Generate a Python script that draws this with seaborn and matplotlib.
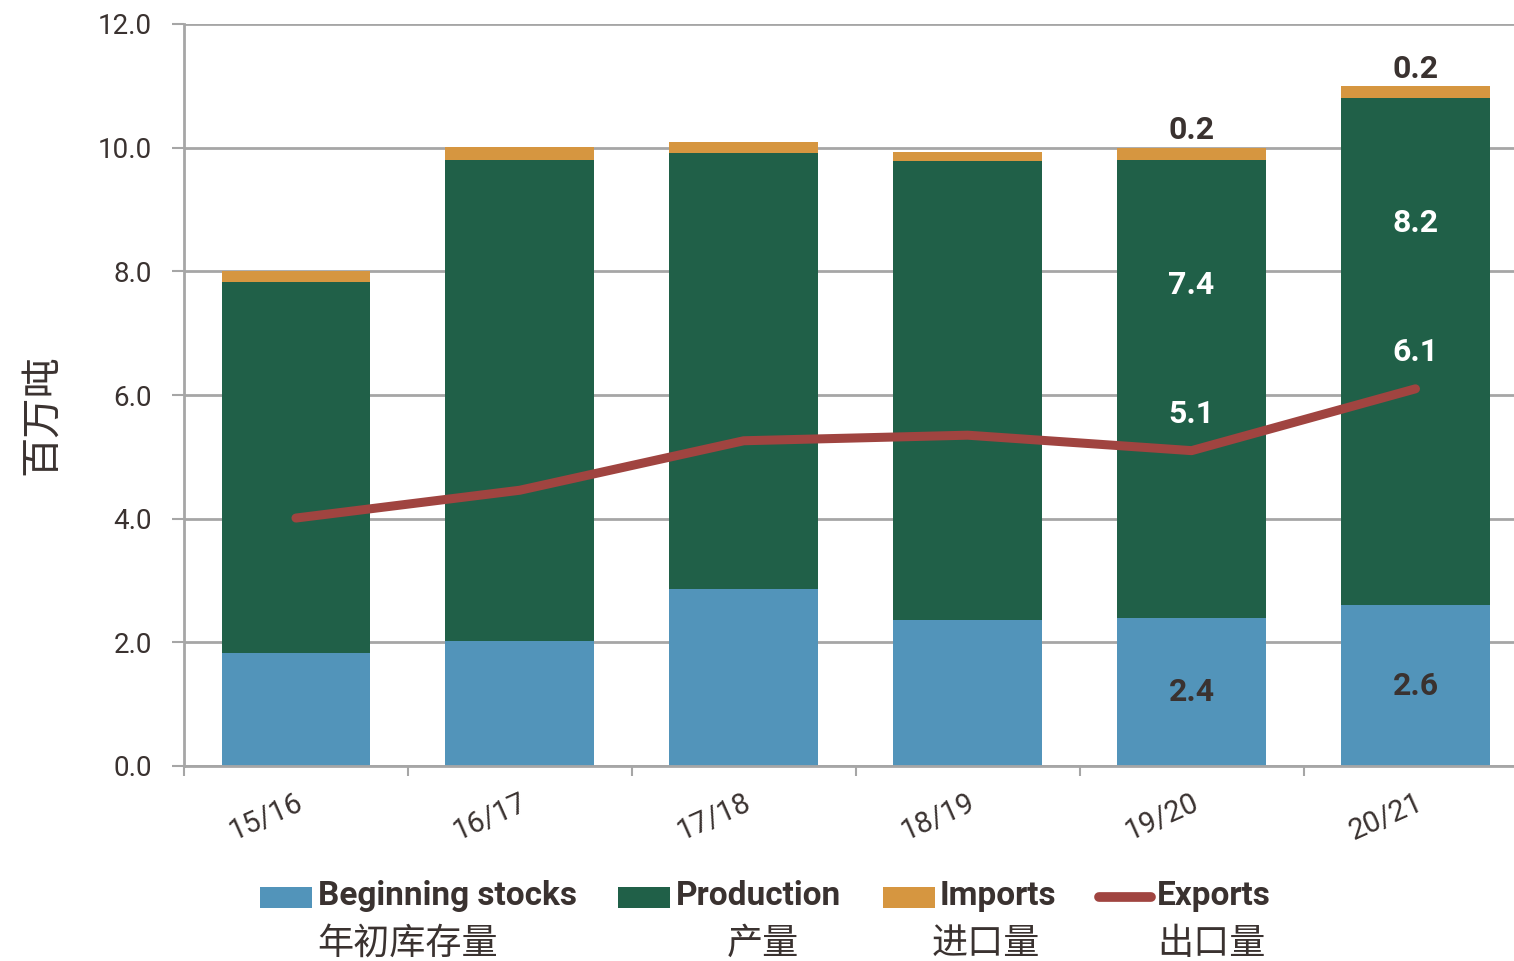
import matplotlib
matplotlib.use("Agg")
import matplotlib.pyplot as plt
from matplotlib.patches import Rectangle
from matplotlib.lines import Line2D
import seaborn as sns
import pandas as pd
import numpy as np

# Soybean-style balance sheet, million tonnes
seasons = ["15/16", "16/17", "17/18", "18/19", "19/20", "20/21"]
beginning_stocks = [1.83, 2.02, 2.86, 2.36, 2.4, 2.6]
production = [6.0, 7.78, 7.05, 7.42, 7.4, 8.2]
imports = [0.18, 0.21, 0.18, 0.15, 0.2, 0.2]
exports = [4.01, 4.46, 5.26, 5.35, 5.1, 6.1]
labelled = [False, False, False, False, True, True]

legend_en = ["Beginning stocks", "Production", "Imports", "Exports"]
legend_zh = ["年初库存量", "产量", "进口量", "出口量"]
y_label = "百万吨"

C_STOCK = "#5294ba"
C_PROD = "#206048"
C_IMP = "#d69640"
C_EXP = "#a04440"
C_TEXT = "#3a3230"
C_GRID = "#a6a6a6"

sns.set_theme(style="white")
plt.rcParams["font.family"] = ["Roboto", "Noto Sans CJK SC", "DejaVu Sans"]
BOLD = ["Roboto", "Noto Sans CJK SC", "DejaVu Sans"]
CJK = ["Noto Sans CJK SC", "DejaVu Sans"]

df = pd.DataFrame({
    "season": seasons,
    "stocks": beginning_stocks,
    "prod": production,
    "imp": imports,
    "exp": exports,
})
df["lvl2"] = df["stocks"] + df["prod"]
df["lvl3"] = df["lvl2"] + df["imp"]

fig = plt.figure(figsize=(15.14, 9.61), dpi=100)
ax = fig.add_axes([184 / 1514, 195 / 961, 1 - 184 / 1514, (766 - 24) / 961])

bw = 0.665
# stacked bars drawn as cumulative totals, tallest first
sns.barplot(data=df, x="season", y="lvl3", color=C_IMP, width=bw, saturation=1,
            linewidth=0, ax=ax, zorder=2)
sns.barplot(data=df, x="season", y="lvl2", color=C_PROD, width=bw, saturation=1,
            linewidth=0, ax=ax, zorder=2)
sns.barplot(data=df, x="season", y="stocks", color=C_STOCK, width=bw, saturation=1,
            linewidth=0, ax=ax, zorder=2)

sns.lineplot(data=df, x="season", y="exp", sort=False, color=C_EXP, linewidth=6.5,
             ax=ax, zorder=4, solid_capstyle="round", solid_joinstyle="round")

ax.set_ylim(0, 12)
ax.set_xlim(-0.5, 5.44)
ax.set_yticks(np.arange(0, 12.1, 2))
ax.set_yticklabels([f"{v:.1f}" for v in np.arange(0, 12.1, 2)])
ax.yaxis.grid(True, color=C_GRID, linewidth=2, zorder=0)
ax.set_axisbelow(True)

for s in ["top", "right"]:
    ax.spines[s].set_visible(False)
for s in ["left", "bottom"]:
    ax.spines[s].set_color(C_GRID)
    ax.spines[s].set_linewidth(2)

ax.tick_params(axis="y", which="major", direction="out", length=9, width=1.5,
               color=C_GRID, pad=14, labelsize=20, labelcolor=C_TEXT, left=True)
ax.set_xticks(range(len(seasons)))
ax.set_xticks(np.arange(-0.5, len(seasons) - 0.5, 1), minor=True)
ax.tick_params(axis="x", which="major", length=0, pad=16, labelsize=21,
               labelcolor=C_TEXT)
ax.tick_params(axis="x", which="minor", direction="out", length=7, width=1.5,
               color=C_GRID, bottom=True)
for lab in ax.get_xticklabels():
    lab.set_rotation(24)
    lab.set_ha("right")
    lab.set_rotation_mode("anchor")

ax.set_xlabel("")
ax.set_ylabel(y_label, family=CJK, fontsize=29, color=C_TEXT)
ax.yaxis.set_label_coords(-0.092, 0.473)

# value labels on the two latest seasons
lab_kw = dict(ha="center", va="center", fontsize=23, fontweight="bold", family=BOLD)
for i, show in enumerate(labelled):
    if not show:
        continue
    s, p, m, e = beginning_stocks[i], production[i], imports[i], exports[i]
    ax.text(i, s / 2, f"{s:.1f}", color=C_TEXT, **lab_kw)
    ax.text(i, s + p - 2.02, f"{p:.1f}", color="white", **lab_kw)
    ax.text(i, s + p + m + 0.28, f"{m:.1f}", color=C_TEXT, **lab_kw)
    ax.text(i, e + 0.6, f"{e:.1f}", color="white", **lab_kw)

# legend rows drawn in figure pixels
W, H = 1514, 961
def fx(px):
    return px / W
def fy(py):
    return 1 - py / H

handles_x = [260, 618, 883, 1095]
text_x = [318, 676, 940, 1157]
zh_x = [317, 727, 932, 1157]
colors = [C_STOCK, C_PROD, C_IMP]
for k in range(3):
    fig.add_artist(Rectangle((fx(handles_x[k]), fy(908)), fx(52), 21 / H,
                             transform=fig.transFigure, color=colors[k], lw=0))
fig.add_artist(Line2D([fx(1099), fx(1151)], [fy(897), fy(897)],
                      transform=fig.transFigure, color=C_EXP, lw=7,
                      solid_capstyle="round"))
for k in range(4):
    fig.text(fx(text_x[k]), fy(896), legend_en[k], ha="left", va="center",
             fontsize=24, fontweight="bold", family=BOLD, color=C_TEXT)
    fig.text(fx(zh_x[k]), fy(944), legend_zh[k], ha="left", va="center",
             fontsize=26, family=CJK, color=C_TEXT)

fig.savefig("out.png", dpi=100, facecolor="white")
